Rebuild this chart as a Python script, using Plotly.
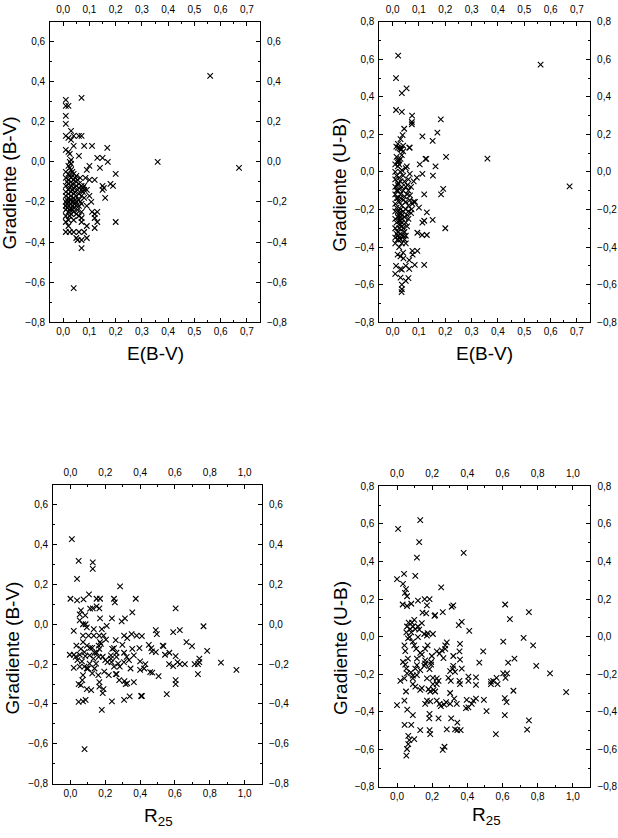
import plotly.graph_objects as go

# ---------------- data ----------------
# Panel 1: Gradiente (B-V) vs E(B-V)
P1 = [(0.56, 0.43), (0.36, 0.0), (0.67, -0.03), (0.04, -0.63), (0.07, 0.32),
      (0.01, 0.31), (0.01, 0.28), (0.02, 0.28), (0.01, 0.23), (0.01, 0.19),
      (0.03, 0.155), (0.01, 0.13), (0.02, 0.12), (0.03, 0.11), (0.04, 0.13),
      (0.06, 0.13), (0.07, 0.13), (0.04, 0.08), (0.08, 0.08), (0.11, 0.08),
      (0.168, 0.07), (0.01, 0.06), (0.02, 0.05), (0.025, 0.04), (0.06, 0.03),
      (0.13, 0.02), (0.15, 0.02), (0.17, 0.0), (0.14, -0.03), (0.10, -0.02),
      (0.09, -0.04), (0.20, -0.06), (0.12, -0.09), (0.15, -0.12), (0.155, -0.13),
      (0.15, -0.14), (0.18, -0.11), (0.19, -0.12), (0.16, -0.18), (0.107, -0.2),
      (0.09, -0.22), (0.11, -0.25), (0.12, -0.26), (0.13, -0.25), (0.12, -0.28),
      (0.13, -0.30), (0.20, -0.30), (0.12, -0.33), (0.09, -0.32), (0.08, -0.35),
      (0.09, -0.38), (0.07, -0.39), (0.05, -0.38), (0.055, -0.39), (0.07, -0.43),
      (0.06, -0.35), (0.01, -0.35), (0.025, -0.35), (0.04, -0.35), (0.07, -0.30),
      (0.07, -0.28), (0.01, -0.30), (0.02, -0.32),
      (0.01, -0.05), (0.01, -0.08), (0.01, -0.12), (0.01, -0.15), (0.01, -0.17),
      (0.01, -0.20), (0.01, -0.22), (0.01, -0.24), (0.01, -0.27), (0.015, -0.10),
      (0.015, -0.19), (0.015, -0.21), (0.015, -0.23), (0.02, -0.02), (0.02, -0.06),
      (0.02, -0.09), (0.02, -0.11), (0.02, -0.14), (0.02, -0.16), (0.02, -0.18),
      (0.02, -0.20), (0.02, -0.22), (0.02, -0.25), (0.02, -0.29), (0.025, 0.0),
      (0.025, -0.03), (0.025, -0.07), (0.025, -0.13), (0.025, -0.19), (0.025, -0.24),
      (0.025, -0.27), (0.03, 0.01), (0.03, -0.01), (0.03, -0.04), (0.03, -0.08),
      (0.03, -0.10), (0.03, -0.12), (0.03, -0.15), (0.03, -0.17), (0.03, -0.19),
      (0.03, -0.21), (0.03, -0.23), (0.03, -0.26), (0.035, -0.05), (0.035, -0.11),
      (0.035, -0.14), (0.035, -0.20), (0.035, -0.22), (0.035, -0.24), (0.04, -0.06),
      (0.04, -0.09), (0.04, -0.13), (0.04, -0.16), (0.04, -0.18), (0.04, -0.20),
      (0.04, -0.23), (0.04, -0.25), (0.04, -0.29), (0.045, -0.08), (0.045, -0.15),
      (0.045, -0.19), (0.045, -0.21), (0.05, -0.07), (0.05, -0.10), (0.05, -0.12),
      (0.05, -0.17), (0.05, -0.20), (0.05, -0.22), (0.05, -0.26), (0.055, -0.09),
      (0.055, -0.14), (0.055, -0.24), (0.06, -0.11), (0.06, -0.13), (0.06, -0.16),
      (0.06, -0.19), (0.06, -0.22), (0.06, -0.27), (0.065, -0.08), (0.065, -0.20),
      (0.07, -0.12), (0.07, -0.14), (0.07, -0.17), (0.07, -0.21), (0.07, -0.25),
      (0.075, -0.13), (0.075, -0.15), (0.08, -0.12), (0.08, -0.14), (0.08, -0.18),
      (0.085, -0.08), (0.09, -0.14), (0.10, -0.09), (0.10, -0.17)]

# Panel 2: Gradiente (U-B) vs E(B-V)
P2 = [(0.021, 0.62), (0.013, 0.50), (0.053, 0.445), (0.035, 0.42), (0.013, 0.33),
      (0.035, 0.32), (0.074, 0.30), (0.073, 0.266), (0.073, 0.254), (0.183, 0.28),
      (0.17, 0.21), (0.113, 0.19), (0.152, 0.165), (0.044, 0.23), (0.038, 0.196),
      (0.03, 0.175), (0.02, 0.15), (0.014, 0.135), (0.026, 0.125), (0.063, 0.13),
      (0.034, 0.12), (0.04, 0.11), (0.125, 0.07), (0.128, 0.07), (0.203, 0.08),
      (0.103, 0.04), (0.163, 0.03), (0.054, 0.03), (0.113, -0.01), (0.153, -0.02),
      (0.065, -0.01), (0.092, -0.03), (0.08, -0.05), (0.056, -0.07), (0.192, -0.09),
      (0.184, -0.12), (0.672, -0.077), (0.36, 0.071), (0.562, 0.572), (0.12, -0.12),
      (0.066, -0.125), (0.085, -0.16), (0.10, -0.19), (0.072, -0.20), (0.13, -0.215),
      (0.12, -0.26), (0.113, -0.27), (0.152, -0.255), (0.20, -0.30), (0.094, -0.324),
      (0.112, -0.336), (0.13, -0.336), (0.075, -0.42), (0.094, -0.42), (0.076, -0.44),
      (0.12, -0.495), (0.084, -0.495), (0.063, -0.47), (0.041, -0.46), (0.063, -0.516),
      (0.06, -0.566), (0.05, -0.58), (0.035, -0.60), (0.035, -0.625), (0.034, -0.64),
      (0.013, -0.50), (0.03, -0.516), (0.03, -0.563), (0.01, -0.543), (0.019, -0.44),
      (0.01, 0.04), (0.01, 0.0), (0.01, -0.04), (0.01, -0.08), (0.01, -0.12),
      (0.01, -0.17), (0.01, -0.21), (0.01, -0.25), (0.01, -0.30), (0.01, -0.35),
      (0.01, -0.38), (0.015, 0.08), (0.015, -0.02), (0.015, -0.10), (0.015, -0.14),
      (0.015, -0.19), (0.015, -0.27), (0.015, -0.33), (0.02, 0.13), (0.02, 0.06),
      (0.02, 0.05), (0.02, 0.03), (0.02, -0.06), (0.02, -0.07), (0.02, -0.10),
      (0.02, -0.14), (0.02, -0.21), (0.02, -0.24), (0.02, -0.32), (0.02, -0.34),
      (0.02, -0.36), (0.025, 0.06), (0.025, 0.04), (0.025, -0.03), (0.025, -0.09),
      (0.025, -0.16), (0.025, -0.22), (0.025, -0.26), (0.025, -0.30), (0.025, -0.35),
      (0.025, -0.40), (0.03, 0.12), (0.03, 0.07), (0.03, 0.0), (0.03, -0.05),
      (0.03, -0.12), (0.03, -0.14), (0.03, -0.20), (0.03, -0.22), (0.03, -0.24),
      (0.03, -0.26), (0.03, -0.28), (0.03, -0.33), (0.03, -0.36), (0.03, -0.45),
      (0.035, 0.09), (0.035, 0.01), (0.035, -0.08), (0.035, -0.18), (0.035, -0.23),
      (0.035, -0.25), (0.035, -0.27), (0.035, -0.29), (0.035, -0.38), (0.035, -0.52),
      (0.04, 0.14), (0.04, -0.02), (0.04, -0.10), (0.04, -0.15), (0.04, -0.21),
      (0.04, -0.30), (0.04, -0.34), (0.04, -0.43), (0.045, -0.05), (0.045, -0.13),
      (0.045, -0.24), (0.045, -0.32), (0.045, -0.36), (0.05, 0.02), (0.05, -0.08),
      (0.05, -0.16), (0.05, -0.20), (0.05, -0.27), (0.05, -0.34), (0.05, -0.38),
      (0.05, -0.50), (0.055, -0.12), (0.055, -0.23), (0.055, -0.29), (0.06, -0.04),
      (0.06, -0.10), (0.06, -0.18), (0.06, -0.21), (0.06, -0.25), (0.065, 0.13),
      (0.065, -0.15), (0.07, -0.08), (0.07, -0.22), (0.075, -0.17), (0.08, -0.16)]

# Panel 3: Gradiente (B-V) vs R25
P3 = [(0.008, 0.427), (0.047, 0.318), (0.038, 0.228), (0.128, 0.31), (0.128, 0.278),
      (0.285, 0.19), (0.0, 0.128), (0.038, 0.12), (0.075, 0.125), (0.106, 0.15),
      (0.15, 0.128), (0.17, 0.128), (0.25, 0.128), (0.255, 0.11), (0.375, 0.128),
      (0.113, 0.078), (0.128, 0.08), (0.15, 0.09), (0.166, 0.08), (0.06, 0.07),
      (0.053, 0.05), (0.053, 0.02), (0.085, 0.045), (0.019, -0.033), (0.17, 0.03),
      (0.238, 0.03), (0.313, 0.03), (0.294, 0.015), (0.355, 0.06), (0.604, 0.08),
      (0.764, -0.01), (0.628, -0.03), (0.59, -0.04), (0.49, -0.03), (0.496, -0.05),
      (0.351, -0.05), (0.38, -0.057), (0.41, -0.06), (0.308, -0.057), (0.326, -0.07),
      (0.072, 0.0), (0.087, 0.0), (0.094, -0.016), (0.104, -0.057), (0.134, -0.024),
      (0.134, -0.057), (0.166, -0.057), (0.18, -0.024), (0.208, -0.008), (0.19, -0.057),
      (0.204, -0.077), (0.26, -0.08), (0.25, -0.12), (0.072, -0.09), (0.034, -0.107),
      (0.02, -0.153), (-0.004, -0.153), (0.06, -0.123), (0.08, -0.14), (0.113, -0.118),
      (0.125, -0.118), (0.17, -0.09), (0.166, -0.123), (0.232, -0.156), (0.236, -0.19),
      (0.298, -0.103), (0.308, -0.143), (0.355, -0.123), (0.364, -0.156), (0.396, -0.12),
      (0.45, -0.103), (0.464, -0.12), (0.468, -0.136), (0.49, -0.14), (0.53, -0.107),
      (0.534, -0.11), (0.543, -0.153), (0.568, -0.143), (0.604, -0.16), (0.615, -0.19),
      (0.628, -0.20), (0.657, -0.20), (0.666, -0.09), (0.698, -0.11), (0.74, -0.173),
      (0.732, -0.20), (0.785, -0.133), (0.864, -0.193), (0.953, -0.229), (0.74, -0.19),
      (0.566, -0.20), (0.59, -0.21), (0.713, -0.20), (0.732, -0.25), (0.604, -0.28),
      (0.604, -0.30), (0.553, -0.35), (0.458, -0.24), (0.47, -0.243), (0.506, -0.26),
      (0.43, -0.20), (0.423, -0.222), (0.40, -0.186), (0.40, -0.229), (0.41, -0.36),
      (0.406, -0.36), (0.336, -0.18), (0.345, -0.222), (0.364, -0.29), (0.34, -0.362),
      (0.31, -0.285), (0.317, -0.30), (0.326, -0.297), (0.308, -0.379), (0.238, -0.387),
      (0.28, -0.28), (0.26, -0.25), (0.265, -0.25), (0.274, -0.197), (0.25, -0.213),
      (0.213, -0.19), (0.22, -0.255), (0.194, -0.238), (0.19, -0.325), (0.185, -0.346),
      (0.18, -0.43), (0.166, -0.29), (0.166, -0.313), (0.16, -0.255), (0.147, -0.197),
      (0.138, -0.222), (0.11, -0.197), (0.10, -0.222), (0.125, -0.247), (0.119, -0.33),
      (0.094, -0.325), (0.087, -0.379), (0.072, -0.387), (0.047, -0.39), (0.047, -0.30),
      (0.06, -0.305), (0.068, -0.28), (0.072, -0.255), (0.053, -0.213), (0.04, -0.18),
      (0.08, -0.213), (0.094, -0.222), (0.019, -0.219), (0.03, -0.164), (0.081, -0.627),
      (0.185, -0.163), (0.20, -0.18), (0.162, -0.164), (0.175, -0.098), (0.162, -0.107),
      (0.15, -0.143), (0.24, -0.123), (0.232, -0.173), (0.264, -0.143), (0.264, -0.164),
      (0.323, -0.164), (0.307, -0.19), (0.283, -0.213), (0.132, -0.173), (0.138, -0.143),
      (0.085, -0.16), (0.053, -0.153), (0.066, -0.186), (0.072, -0.057), (0.094, -0.107),
      (0.11, -0.156)]

# Panel 4: Gradiente (U-B) vs R25
P4 = [(0.006, 0.573), (0.132, 0.62), (0.126, 0.503), (0.113, 0.421), (0.379, 0.446),
      (0.0, 0.306), (0.04, 0.334), (0.034, 0.281), (0.104, 0.323), (0.251, 0.262),
      (0.051, 0.253), (0.045, 0.233), (0.057, 0.215), (0.032, 0.171), (0.057, 0.163),
      (0.081, 0.175), (0.119, 0.192), (0.157, 0.20), (0.185, 0.20), (0.145, 0.128),
      (0.17, 0.166), (0.166, 0.124), (0.217, 0.114), (0.26, 0.131), (0.311, 0.159),
      (0.32, 0.166), (0.368, 0.079), (0.351, 0.061), (0.411, 0.031), (0.615, 0.171),
      (0.642, 0.093), (0.75, 0.131), (0.72, -0.007), (0.774, -0.047), (0.604, -0.026),
      (0.49, -0.079), (0.468, -0.138), (0.632, -0.138), (0.668, -0.117), (0.792, -0.156),
      (0.87, -0.196), (0.962, -0.295), (0.358, -0.038), (0.355, -0.079), (0.358, -0.122),
      (0.368, -0.17), (0.32, -0.156), (0.355, -0.236), (0.358, -0.253), (0.449, -0.217),
      (0.449, -0.257), (0.449, -0.33), (0.396, -0.336), (0.406, -0.376), (0.392, -0.38),
      (0.425, -0.358), (0.434, -0.34), (0.406, -0.213), (0.406, -0.236), (0.494, -0.336),
      (0.509, -0.397), (0.534, -0.24), (0.534, -0.253), (0.547, -0.236), (0.572, -0.253),
      (0.566, -0.219), (0.604, -0.196), (0.617, -0.219), (0.626, -0.196), (0.613, -0.327),
      (0.623, -0.348), (0.662, -0.288), (0.613, -0.418), (0.562, -0.519), (0.75, -0.446),
      (0.74, -0.495), (0.343, -0.498), (0.33, -0.493), (0.362, -0.498), (0.343, -0.458),
      (0.308, -0.435), (0.283, -0.493), (0.236, -0.435), (0.27, -0.586), (0.26, -0.603),
      (0.189, -0.519), (0.185, -0.498), (0.183, -0.435), (0.185, -0.411), (0.132, -0.498),
      (0.098, -0.545), (0.07, -0.551), (0.064, -0.572), (0.057, -0.598), (0.053, -0.633),
      (0.064, -0.528), (0.081, -0.47), (0.043, -0.47), (0.09, -0.418), (0.058, -0.388),
      (0.042, -0.341), (0.0, -0.365), (0.019, -0.236), (0.042, -0.222), (0.034, -0.135),
      (0.047, -0.149), (0.042, -0.047), (0.047, -0.077), (0.053, -0.17), (0.057, -0.196),
      (0.051, -0.292), (0.09, -0.208), (0.09, -0.253), (0.104, -0.266), (0.132, -0.283),
      (0.141, -0.274), (0.179, -0.28), (0.189, -0.292), (0.208, -0.283), (0.217, -0.292),
      (0.17, -0.341), (0.189, -0.344), (0.16, -0.358), (0.226, -0.341), (0.242, -0.358),
      (0.249, -0.37), (0.268, -0.362), (0.279, -0.348), (0.302, -0.358), (0.325, -0.33),
      (0.34, -0.358), (0.302, -0.30), (0.292, -0.219), (0.306, -0.236), (0.302, -0.184),
      (0.317, -0.17), (0.33, -0.187), (0.32, -0.103), (0.283, -0.03), (0.274, -0.047),
      (0.274, -0.065), (0.255, -0.073), (0.242, -0.091), (0.226, -0.079), (0.264, -0.114),
      (0.198, -0.103), (0.194, -0.135), (0.194, -0.149), (0.185, -0.173), (0.204, -0.219),
      (0.226, -0.222), (0.236, -0.236), (0.204, -0.253), (0.226, -0.253), (0.17, -0.222),
      (0.155, -0.156), (0.16, -0.126), (0.16, -0.143), (0.141, -0.096), (0.132, -0.086),
      (0.109, -0.065), (0.098, -0.047), (0.113, -0.117), (0.113, -0.152), (0.132, -0.178),
      (0.113, -0.205), (0.104, -0.17), (0.079, -0.19), (0.09, -0.222), (0.062, -0.117),
      (0.072, -0.003), (0.062, -0.009), (0.081, 0.023), (0.075, 0.04), (0.09, 0.054),
      (0.104, 0.04), (0.057, 0.054), (0.053, 0.023), (0.066, 0.075), (0.119, 0.054),
      (0.126, 0.037), (0.141, 0.072), (0.155, 0.014), (0.174, 0.019), (0.17, 0.005),
      (0.204, 0.014), (0.119, -0.003), (0.09, -0.026), (0.16, -0.065), (0.174, -0.047),
      (0.085, 0.075), (0.098, 0.089), (0.213, 0.11)]

X_TITLES = ["E(B-V)", "E(B-V)", "R<sub>25</sub>", "R<sub>25</sub>"]
Y_TITLES = ["Gradiente (B-V)", "Gradiente (U-B)", "Gradiente (B-V)", "Gradiente (U-B)"]
X_RANGES = [[-0.05, 0.75], [-0.05, 0.75], [-0.1, 1.1], [-0.1, 1.1]]
Y_RANGES = [[-0.8, 0.7], [-0.8, 0.8], [-0.8, 0.7], [-0.8, 0.8]]
X_DTICK = [0.1, 0.1, 0.2, 0.2]
Y_DTICK = 0.2

# ---------------- layout geometry (pixels) ----------------
W, H = 618, 838
BOXES = [  # left, right, top, bottom in pixels
    (50.3, 261.3, 16.0, 320.7),
    (381.3, 593.0, 16.0, 320.7),
    (53.3, 263.3, 485.7, 789.0),
    (381.3, 593.3, 487.3, 792.3),
]
YT_POS = [(9, 179), (341, 181), (13, 651), (342, 651)]
XT_POS = [(156, 353), (487, 353), (159, 823), (489, 822)]

FONT = "Liberation Sans, Arial, Helvetica, sans-serif"

fig = go.Figure()
layout = dict(
    width=W, height=H, margin=dict(l=0, r=0, t=0, b=0),
    paper_bgcolor="white", plot_bgcolor="white", showlegend=False,
    separators=",.", font=dict(family=FONT, size=10, color="black"),
)

datasets = [P1, P2, P3, P4]
annotations = []
for i in range(4):
    L, R, T, B = BOXES[i]
    xd = [L / W, R / W]
    yd = [1 - B / H, 1 - T / H]
    kx, ky = i + 1, i + 5  # primary index, secondary index
    xs = [p[0] for p in datasets[i]]
    ys = [p[1] for p in datasets[i]]
    fig.add_trace(go.Scatter(
        x=xs, y=ys, mode="markers", xaxis=f"x{kx}", yaxis=f"y{kx}",
        marker=dict(symbol="x-thin", size=5.5, color="black",
                    line=dict(width=1.1, color="black")),
        hoverinfo="skip"))
    fig.add_trace(go.Scatter(x=[None], y=[None], mode="markers",
                             xaxis=f"x{ky}", yaxis=f"y{ky}", hoverinfo="skip"))

    common = dict(showgrid=False, zeroline=False, showline=True, linecolor="black",
                  linewidth=1, ticks="inside", ticklen=4, tickwidth=1, tickcolor="black",
                  tickfont=dict(family=FONT, size=10, color="black"), tickformat=".1f")
    xa = dict(common, domain=xd, range=X_RANGES[i], dtick=X_DTICK[i], tick0=0,
              minor=dict(ticks="inside", ticklen=2, dtick=X_DTICK[i] / 2, tick0=0,
                         tickcolor="black", showgrid=False))
    ya = dict(common, domain=yd, range=Y_RANGES[i], dtick=Y_DTICK, tick0=0,
              minor=dict(ticks="inside", ticklen=2, dtick=Y_DTICK / 2, tick0=0,
                         tickcolor="black", showgrid=False))
    layout[f"xaxis{kx}"] = dict(xa, anchor=f"y{kx}", side="bottom")
    layout[f"yaxis{kx}"] = dict(ya, anchor=f"x{kx}", side="left", ticklabelstandoff=2)
    layout[f"xaxis{ky}"] = dict(xa, anchor=f"y{ky}", side="top", overlaying=f"x{kx}",
                                ticklabelstandoff=4)
    layout[f"yaxis{ky}"] = dict(ya, anchor=f"x{ky}", side="right", overlaying=f"y{kx}",
                                ticklabelstandoff=4)

    annotations.append(dict(text=Y_TITLES[i], x=YT_POS[i][0] / W, y=1 - YT_POS[i][1] / H,
                            xref="paper", yref="paper", showarrow=False, textangle=-90,
                            xanchor="center", yanchor="middle",
                            font=dict(family=FONT, size=19, color="black")))
    annotations.append(dict(text=X_TITLES[i], x=XT_POS[i][0] / W, y=1 - XT_POS[i][1] / H,
                            xref="paper", yref="paper", showarrow=False,
                            xanchor="center", yanchor="middle",
                            font=dict(family=FONT, size=19, color="black")))

layout["annotations"] = annotations
fig.update_layout(**layout)
fig.write_html("out.html", config={"displayModeBar": False},
               post_script="document.body.style.margin='0';document.body.style.overflow='hidden';")
